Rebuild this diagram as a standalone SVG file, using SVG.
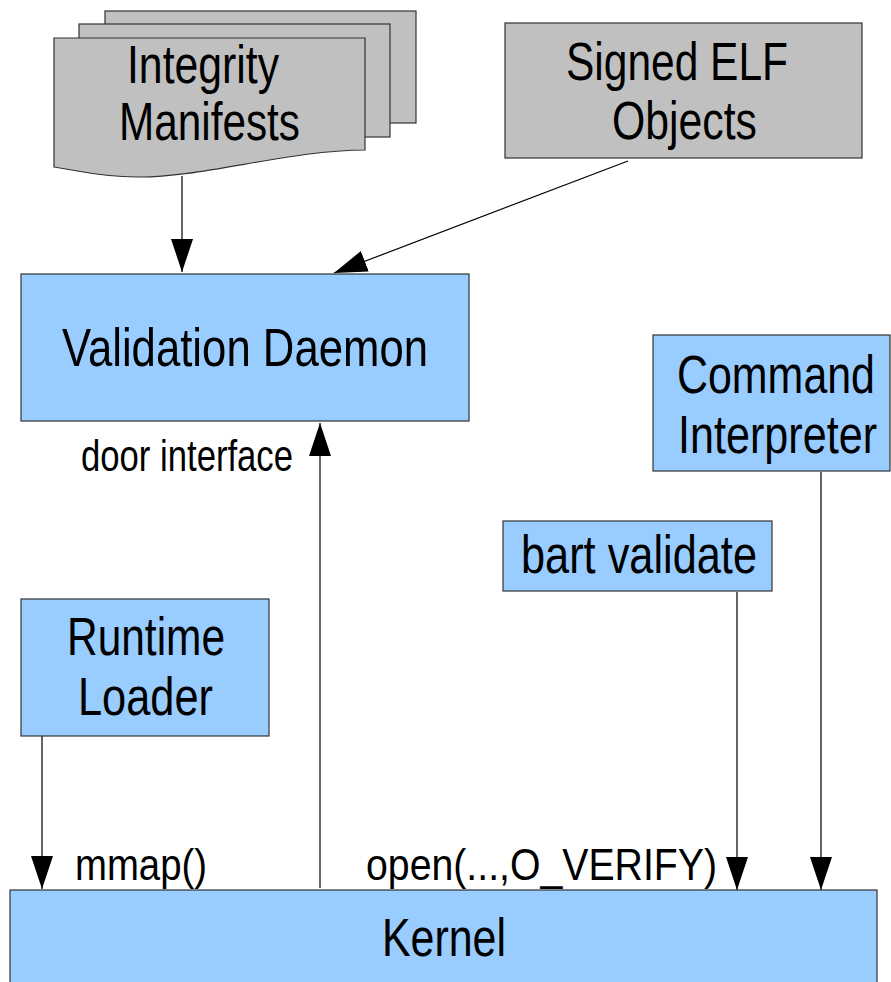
<svg xmlns="http://www.w3.org/2000/svg" width="891" height="982" viewBox="0 0 891 982">
<defs>
<style>
.doc{fill:#c0c0c0;stroke:#333;stroke-width:1.2}
.box{fill:#99ccff;stroke:#333;stroke-width:1.2}
.big{font-family:"Liberation Sans",Arial,sans-serif;font-size:53px;fill:#000}
.lbl{font-family:"Liberation Sans",Arial,sans-serif;font-size:44px;fill:#000}
.con{stroke:#000;stroke-width:1.2;fill:none;marker-end:url(#ah)}
</style>
<marker id="ah" markerUnits="userSpaceOnUse" markerWidth="33" markerHeight="22" refX="33" refY="11" orient="auto" viewBox="0 0 33 22">
<path d="M0,0 L33,11 L0,22 Z" fill="#000"/>
</marker>
</defs>
<rect width="891" height="982" fill="#fff"/>
<g id="connectors">
<line class="con" x1="182" y1="176" x2="182" y2="272"/>
<line class="con" x1="628" y1="161" x2="334" y2="273"/>
<line class="con" x1="320" y1="888" x2="320" y2="423"/>
<line class="con" x1="42" y1="736" x2="42" y2="889"/>
<line class="con" x1="737" y1="592" x2="737" y2="890"/>
<line class="con" x1="821" y1="472" x2="821" y2="890"/>
</g>
<g id="integrity-manifests">
<rect class="doc" x="105" y="11" width="311" height="112"/>
<rect class="doc" x="79" y="24" width="311" height="113"/>
<path class="doc" d="M54,38 H365 V150 C290,150 200,178 137,177 C100,177 75,170 54,167 Z"/>
<text class="big" x="127" y="83" textLength="152" lengthAdjust="spacingAndGlyphs">Integrity</text>
<text class="big" x="119" y="140" textLength="181" lengthAdjust="spacingAndGlyphs">Manifests</text>
</g>
<g id="signed-elf">
<rect class="doc" x="505" y="23" width="357" height="135"/>
<text class="big" x="566" y="80" textLength="222" lengthAdjust="spacingAndGlyphs">Signed ELF</text>
<text class="big" x="612" y="139" textLength="145" lengthAdjust="spacingAndGlyphs">Objects</text>
</g>
<g id="validation-daemon">
<rect class="box" x="21" y="274" width="448" height="147"/>
<text class="big" x="62" y="366" textLength="366" lengthAdjust="spacingAndGlyphs">Validation Daemon</text>
</g>
<g id="door-label">
<text class="lbl" x="81" y="471" font-size="42" textLength="212" lengthAdjust="spacingAndGlyphs">door interface</text>
</g>
<g id="command-interpreter">
<rect class="box" x="653" y="335" width="237" height="136"/>
<text class="big" x="677" y="393" textLength="198" lengthAdjust="spacingAndGlyphs">Command</text>
<text class="big" x="678" y="453" textLength="199" lengthAdjust="spacingAndGlyphs">Interpreter</text>
</g>
<g id="bart-validate">
<rect class="box" x="503" y="521" width="269" height="70"/>
<text class="big" x="521" y="573" textLength="236" lengthAdjust="spacingAndGlyphs">bart validate</text>
</g>
<g id="runtime-loader">
<rect class="box" x="21" y="599" width="248" height="137"/>
<text class="big" x="67" y="655" textLength="158" lengthAdjust="spacingAndGlyphs">Runtime</text>
<text class="big" x="78" y="715" textLength="135" lengthAdjust="spacingAndGlyphs">Loader</text>
</g>
<g id="kernel">
<rect class="box" x="10" y="890" width="867" height="110"/>
<text class="big" x="382" y="956" textLength="124" lengthAdjust="spacingAndGlyphs">Kernel</text>
</g>
<g id="call-labels">
<text class="lbl" x="75" y="880" textLength="132" lengthAdjust="spacingAndGlyphs">mmap()</text>
<text class="lbl" x="366" y="880" textLength="351" lengthAdjust="spacingAndGlyphs">open(...,O_VERIFY)</text>
</g>
</svg>
